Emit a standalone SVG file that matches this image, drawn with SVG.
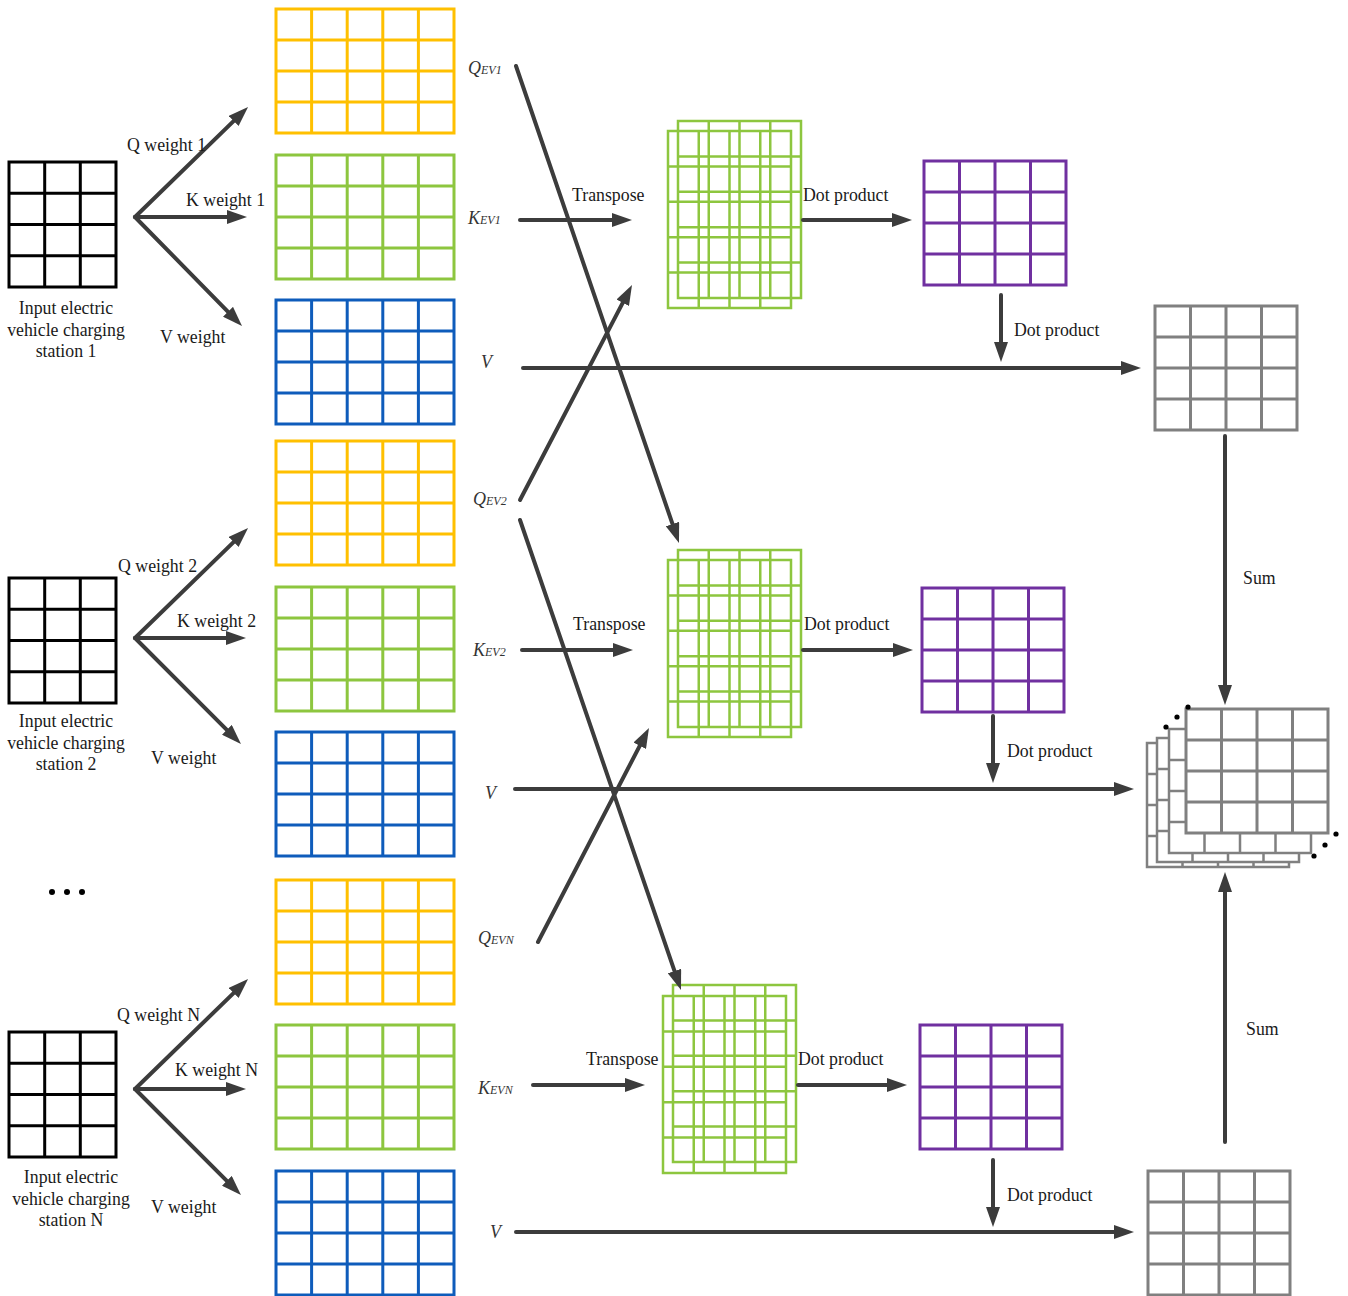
<svg xmlns="http://www.w3.org/2000/svg" xmlns:xlink="http://www.w3.org/1999/xlink" width="1348" height="1296" viewBox="0 0 1348 1296">
<style>
.t{font-family:"Liberation Serif","Times New Roman",serif;font-size:17.8px;fill:#1a1a1a}
.lb{font-family:"Liberation Serif","Times New Roman",serif;font-style:italic;fill:#333}
.big{font-size:18px}.sm{font-size:12px}
.grid{fill:none;stroke-width:3}
.yel{stroke:#FFC000}.grn{stroke:#8DC63F}.blu{stroke:#0E5CBB}.pur{stroke:#7030A0}.gry{stroke:#808080}.blk{stroke:#000}
.tg{fill:none;stroke:#8DC63F;stroke-width:2.5}
.st{fill:#fff;stroke:#808080;stroke-width:2.5}
.ar{fill:none;stroke:#3C3C3C;stroke-width:4;stroke-linecap:round;marker-end:url(#ah)}
</style>
<defs>
<marker id="ah" markerUnits="userSpaceOnUse" markerWidth="20" markerHeight="14" refX="12" refY="7" orient="auto"><path d="M0,0L20,7L0,14Z" fill="#3C3C3C"/></marker>
<path id="g54" d="M0,0H178V124H0Z M35.6,0V124 M71.2,0V124 M106.8,0V124 M142.4,0V124 M0,31H178 M0,62H178 M0,93H178"/>
<path id="g44" d="M0,0H142V124H0Z M35.5,0V124 M71,0V124 M106.5,0V124 M0,31H142 M0,62H142 M0,93H142"/>
<path id="g34" d="M0,0H107V125H0Z M35.7,0V125 M71.3,0V125 M0,31.25H107 M0,62.5H107 M0,93.75H107"/>
<path id="g45" d="M0,0H123V177H0Z M30.75,0V177 M61.5,0V177 M92.25,0V177 M0,35.4H123 M0,70.8H123 M0,106.2H123 M0,141.6H123"/>
</defs>

<g id="input1" class="grid blk"><use xlink:href="#g34" x="9" y="162"/><text class="t" x="66" y="314" text-anchor="middle" stroke="none">Input electric</text><text class="t" x="66" y="336" text-anchor="middle" stroke="none">vehicle charging</text><text class="t" x="66" y="357" text-anchor="middle" stroke="none">station 1</text></g>
<g id="input2" class="grid blk"><use xlink:href="#g34" x="9" y="578"/><text class="t" x="66" y="727" text-anchor="middle" stroke="none">Input electric</text><text class="t" x="66" y="749" text-anchor="middle" stroke="none">vehicle charging</text><text class="t" x="66" y="770" text-anchor="middle" stroke="none">station 2</text></g>
<g id="inputN" class="grid blk"><use xlink:href="#g34" x="9" y="1032"/><text class="t" x="71" y="1183" text-anchor="middle" stroke="none">Input electric</text><text class="t" x="71" y="1205" text-anchor="middle" stroke="none">vehicle charging</text><text class="t" x="71" y="1226" text-anchor="middle" stroke="none">station N</text></g>
<g id="ellipsis" fill="#000"><circle cx="52" cy="892" r="3"/><circle cx="67" cy="892" r="3"/><circle cx="82" cy="892" r="3"/></g>

<g id="q1" class="grid yel"><use xlink:href="#g54" x="276" y="9"/></g>
<g id="k1" class="grid grn"><use xlink:href="#g54" x="276" y="155"/></g>
<g id="v1" class="grid blu"><use xlink:href="#g54" x="276" y="300"/></g>
<g id="q2" class="grid yel"><use xlink:href="#g54" x="276" y="441"/></g>
<g id="k2" class="grid grn"><use xlink:href="#g54" x="276" y="587"/></g>
<g id="v2" class="grid blu"><use xlink:href="#g54" x="276" y="732"/></g>
<g id="qN" class="grid yel"><use xlink:href="#g54" x="276" y="880"/></g>
<g id="kN" class="grid grn"><use xlink:href="#g54" x="276" y="1025"/></g>
<g id="vN" class="grid blu"><use xlink:href="#g54" x="276" y="1171"/></g>

<g id="kt1" class="tg"><use xlink:href="#g45" x="678" y="121"/><use xlink:href="#g45" x="668" y="131"/></g>
<g id="kt2" class="tg"><use xlink:href="#g45" x="678" y="550"/><use xlink:href="#g45" x="668" y="560"/></g>
<g id="ktN" class="tg"><use xlink:href="#g45" x="673" y="985"/><use xlink:href="#g45" x="663" y="996"/></g>

<g id="a1" class="grid pur"><use xlink:href="#g44" x="924" y="161"/></g>
<g id="a2" class="grid pur"><use xlink:href="#g44" x="922" y="588"/></g>
<g id="aN" class="grid pur"><use xlink:href="#g44" x="920" y="1025"/></g>

<g id="o1" class="grid gry"><use xlink:href="#g44" x="1155" y="306"/></g>
<g id="oN" class="grid gry"><use xlink:href="#g44" x="1148" y="1171"/></g>

<g id="stack" class="st">
<use xlink:href="#g44" x="1147" y="743"/>
<use xlink:href="#g44" x="1157" y="738"/>
<use xlink:href="#g44" x="1169" y="729"/>
<use xlink:href="#g44" x="1186" y="709" style="stroke-width:3"/>
<g fill="#000" stroke="none"><circle cx="1188" cy="707" r="2.6"/><circle cx="1177" cy="717" r="2.6"/><circle cx="1166" cy="727" r="2.6"/><circle cx="1336" cy="834" r="2.6"/><circle cx="1325" cy="845" r="2.6"/><circle cx="1314" cy="856" r="2.6"/></g>
</g>

<g id="labels">
<text class="lb" x="468" y="74"><tspan class="big">Q</tspan><tspan class="sm">EV1</tspan></text>
<text class="lb" x="468" y="224"><tspan class="big">K</tspan><tspan class="sm">EV1</tspan></text>
<text class="lb big" x="481" y="368">V</text>
<text class="lb" x="473" y="505"><tspan class="big">Q</tspan><tspan class="sm">EV2</tspan></text>
<text class="lb" x="473" y="656"><tspan class="big">K</tspan><tspan class="sm">EV2</tspan></text>
<text class="lb big" x="485" y="799">V</text>
<text class="lb" x="478" y="944"><tspan class="big">Q</tspan><tspan class="sm">EVN</tspan></text>
<text class="lb" x="478" y="1094"><tspan class="big">K</tspan><tspan class="sm">EVN</tspan></text>
<text class="lb big" x="490" y="1238">V</text>
</g>

<g id="connectors">
<path class="ar" d="M135,217L242.3,112.6"/>
<path class="ar" d="M135,217H239"/>
<path class="ar" d="M135,217L236.4,320.3"/>
<path class="ar" d="M135,638L242.3,533.6"/>
<path class="ar" d="M135,638H238"/>
<path class="ar" d="M135,638L235.3,738.3"/>
<path class="ar" d="M135,1089L242.3,984.6"/>
<path class="ar" d="M135,1089H238"/>
<path class="ar" d="M135,1089L235.3,1189.3"/>

<path class="ar" d="M516,66L676.4,535.4"/>
<path class="ar" d="M520,500L628.3,292.1"/>
<path class="ar" d="M520,520L678.4,982.4"/>
<path class="ar" d="M538,942L645.3,735.1"/>

<path class="ar" d="M520,220H624"/>
<path class="ar" d="M522,650H625"/>
<path class="ar" d="M533,1085H637"/>

<path class="ar" d="M523,368H1133"/>
<path class="ar" d="M515,789H1126"/>
<path class="ar" d="M516,1232H1126"/>

<path class="ar" d="M803,220H904"/>
<path class="ar" d="M803,650H905"/>
<path class="ar" d="M798,1085H899"/>

<path class="ar" d="M1001,295V354"/>
<path class="ar" d="M993,716V775"/>
<path class="ar" d="M993,1160V1219"/>

<path class="ar" d="M1225,436V697"/>
<path class="ar" d="M1225,1142V880"/>

<text class="t" x="127" y="151">Q weight 1</text>
<text class="t" x="186" y="206">K weight 1</text>
<text class="t" x="160" y="343">V weight</text>
<text class="t" x="118" y="572">Q weight 2</text>
<text class="t" x="177" y="627">K weight 2</text>
<text class="t" x="151" y="764">V weight</text>
<text class="t" x="117" y="1021">Q weight N</text>
<text class="t" x="175" y="1076">K weight N</text>
<text class="t" x="151" y="1213">V weight</text>
<text class="t" x="572" y="201">Transpose</text>
<text class="t" x="573" y="630">Transpose</text>
<text class="t" x="586" y="1065">Transpose</text>
<text class="t" x="803" y="201">Dot product</text>
<text class="t" x="804" y="630">Dot product</text>
<text class="t" x="798" y="1065">Dot product</text>
<text class="t" x="1014" y="336">Dot product</text>
<text class="t" x="1007" y="757">Dot product</text>
<text class="t" x="1007" y="1201">Dot product</text>
<text class="t" x="1243" y="584">Sum</text>
<text class="t" x="1246" y="1035">Sum</text>
</g>
</svg>
